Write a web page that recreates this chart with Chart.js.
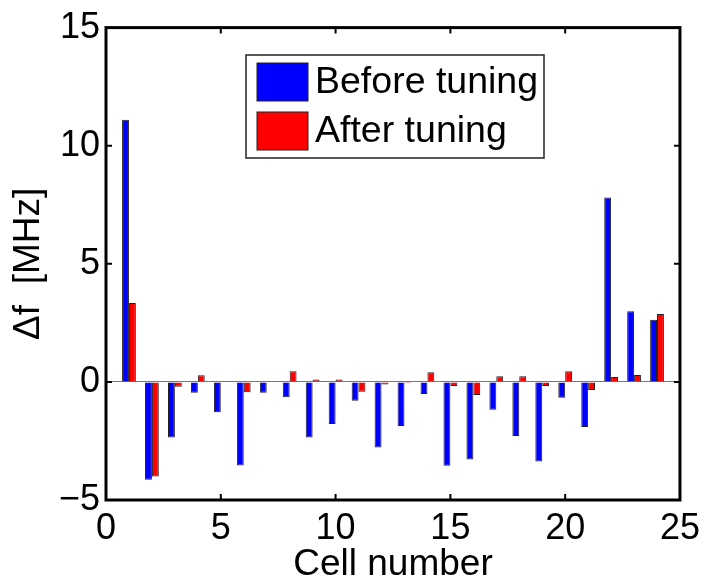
<!DOCTYPE html>
<html><head><meta charset="utf-8">
<script src="https://cdn.jsdelivr.net/npm/chart.js@4"></script>
<style>html,body{margin:0;padding:0;background:#fff}#wrap{width:707px;height:578px}</style>
</head><body><div id="wrap"><canvas id="c" width="707" height="578"></canvas></div>
<script>
const cells = [1,2,3,4,5,6,7,8,9,10,11,12,13,14,15,16,17,18,19,20,21,22,23,24];
const beforeTuning = [11.10,-4.14,-2.35,-0.46,-1.28,-3.54,-0.46,-0.65,-2.35,-1.78,-0.80,-2.78,-1.87,-0.51,-3.55,-3.29,-1.18,-2.29,-3.37,-0.67,-1.91,7.81,2.99,2.63];
const afterTuning = [3.34,-4.00,-0.21,0.28,0.03,-0.44,0.02,0.45,0.10,0.10,-0.42,-0.11,-0.06,0.41,-0.17,-0.55,0.24,0.24,-0.17,0.45,-0.34,0.21,0.29,2.87];
const xTickValues = [0,5,10,15,20,25];
const yTickValues = [-5,0,5,10,15];
const seriesLabels = ['Before tuning','After tuning'];
const seriesColors = ['#0000ff','#ff0000'];
const xTitle = 'Cell number';
const yTitle = '\u0394f  [MHz]';

const FONT = "'Liberation Sans', Arial, Helvetica, sans-serif";

const frameTicks = {
  id: 'frameTicks',
  afterDraw(chart) {
    const {ctx, chartArea: {left, right, top, bottom}, scales: {x, y}} = chart;
    ctx.save();
    ctx.strokeStyle = '#000';
    ctx.lineWidth = 2;
    ctx.beginPath();
    xTickValues.forEach(v => {
      const px = x.getPixelForValue(v);
      if (px <= left + 2 || px >= right - 2) return;
      ctx.moveTo(px, bottom); ctx.lineTo(px, bottom - 6);
      ctx.moveTo(px, top); ctx.lineTo(px, top + 6);
    });
    yTickValues.forEach(v => {
      const py = y.getPixelForValue(v);
      if (py <= top + 2 || py >= bottom - 2) return;
      ctx.moveTo(left, py); ctx.lineTo(left + 6, py);
      ctx.moveTo(right, py); ctx.lineTo(right - 6, py);
    });
    ctx.stroke();
    ctx.lineWidth = 3;
    ctx.strokeRect(left, top, right - left, bottom - top);
    ctx.restore();
  }
};

const boxLegend = {
  id: 'boxLegend',
  afterDatasetsDraw(chart) {
    const {ctx} = chart;
    const bx = 246, by = 55, bw = 298, bh = 103;
    ctx.save();
    ctx.fillStyle = '#fff';
    ctx.fillRect(bx, by, bw, bh);
    ctx.strokeStyle = '#222';
    ctx.lineWidth = 1.5;
    ctx.strokeRect(bx, by, bw, bh);
    chart.data.datasets.forEach((ds, i) => {
      const sy = 63 + i * 49;
      ctx.fillStyle = ds.backgroundColor;
      ctx.fillRect(257, sy, 51, 38);
      ctx.strokeStyle = '#222';
      ctx.lineWidth = 1;
      ctx.strokeRect(257, sy, 51, 38);
      ctx.fillStyle = '#000';
      ctx.font = '37.5px ' + FONT;
      ctx.textBaseline = 'middle';
      ctx.textAlign = 'left';
      ctx.fillText(ds.label, 315, sy + 20);
    });
    ctx.restore();
  }
};

const fmt = v => (v < 0 ? '\u2212' + Math.abs(v) : String(v));

new Chart(document.getElementById('c'), {
  type: 'bar',
  data: {
    datasets: [beforeTuning, afterTuning].map((vals, i) => ({
      label: seriesLabels[i],
      data: cells.map((c, j) => ({x: c, y: vals[j]})),
      backgroundColor: seriesColors[i],
      borderColor: '#222',
      borderWidth: 1,
      categoryPercentage: 0.6,
      barPercentage: 1.0
    }))
  },
  options: {
    responsive: false,
    devicePixelRatio: 1,
    animation: false,
    layout: {padding: {top: 26, right: 22, left: 0, bottom: 0}},
    plugins: {legend: {display: false}, tooltip: {enabled: false}},
    scales: {
      x: {
        type: 'linear',
        min: 0, max: 25,
        offset: false,
        afterFit(s) { s.height = 78; },
        afterBuildTicks(s) { s.ticks = xTickValues.map(v => ({value: v})); },
        grid: {display: false, offset: false, drawTicks: false},
        border: {display: false},
        ticks: {font: {family: FONT, size: 36}, color: '#000', padding: 7, maxRotation: 0, autoSkip: false, callback: fmt},
        title: {display: true, text: xTitle, color: '#000', font: {family: FONT, size: 37, lineHeight: 0.7}, padding: {top: 0, bottom: 0}}
      },
      y: {
        type: 'linear',
        min: -5, max: 15,
        afterFit(s) { s.width = 106; },
        afterBuildTicks(s) { s.ticks = yTickValues.map(v => ({value: v})); },
        grid: {drawTicks: false, lineWidth: 1, color: c => (c.tick && c.tick.value === 0 ? '#777' : 'rgba(0,0,0,0)')},
        border: {display: false},
        ticks: {font: {family: FONT, size: 36}, color: '#000', padding: 6, autoSkip: false, callback: fmt},
        title: {display: true, text: yTitle, color: '#000', font: {family: FONT, size: 37, lineHeight: 0.8}, padding: {top: 14, bottom: 0}}
      }
    }
  },
  plugins: [frameTicks, boxLegend]
});
</script></body></html>
